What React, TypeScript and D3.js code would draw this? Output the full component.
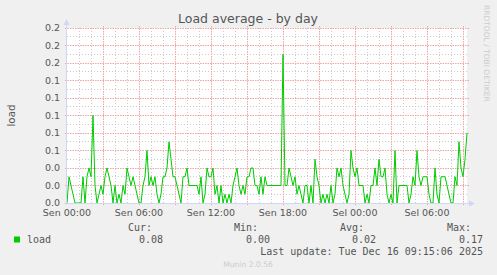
import React from "react";
import * as d3 from "d3";

// load average samples, one every 10 minutes starting Sen 00:00
const loadValues: number[] = [
  0.00, 0.03, 0.02, 0.01, 0.00, 0.00, 0.00, 0.00, 0.03, 0.00,
  0.03, 0.04, 0.03, 0.10, 0.02, 0.00, 0.01, 0.02, 0.01, 0.03,
  0.04, 0.03, 0.02, 0.00, 0.02, 0.00, 0.01, 0.00, 0.02, 0.01,
  0.04, 0.03, 0.02, 0.03, 0.02, 0.01, 0.00, 0.00, 0.02, 0.03,
  0.06, 0.02, 0.03, 0.02, 0.03, 0.01, 0.00, 0.01, 0.03, 0.03,
  0.04, 0.07, 0.05, 0.03, 0.03, 0.02, 0.01, 0.00, 0.03, 0.03,
  0.04, 0.02, 0.02, 0.02, 0.02, 0.02, 0.01, 0.03, 0.00, 0.01,
  0.04, 0.03, 0.03, 0.04, 0.01, 0.02, 0.00, 0.02, 0.00, 0.01,
  0.00, 0.01, 0.00, 0.02, 0.03, 0.04, 0.02, 0.01, 0.02, 0.01,
  0.03, 0.03, 0.04, 0.04, 0.02, 0.02, 0.01, 0.03, 0.01, 0.03,
  0.02, 0.02, 0.02, 0.02, 0.02, 0.02, 0.02, 0.02, 0.17, 0.02,
  0.02, 0.04, 0.03, 0.02, 0.03, 0.01, 0.02, 0.01, 0.00, 0.02,
  0.02, 0.00, 0.02, 0.00, 0.05, 0.03, 0.02, 0.00, 0.01, 0.00,
  0.01, 0.00, 0.02, 0.00, 0.01, 0.04, 0.03, 0.04, 0.02, 0.01,
  0.00, 0.01, 0.06, 0.04, 0.03, 0.04, 0.02, 0.02, 0.02, 0.00,
  0.01, 0.00, 0.02, 0.02, 0.04, 0.02, 0.05, 0.03, 0.03, 0.04,
  0.01, 0.00, 0.01, 0.00, 0.06, 0.00, 0.02, 0.02, 0.02, 0.02,
  0.02, 0.00, 0.01, 0.03, 0.02, 0.06, 0.03, 0.02, 0.03, 0.03,
  0.03, 0.01, 0.00, 0.00, 0.04, 0.01, 0.00, 0.03, 0.03, 0.03,
  0.02, 0.01, 0.00, 0.00, 0.03, 0.02, 0.07, 0.04, 0.03, 0.05,
  0.08,
];

const yTickValues: number[] = [0, 0.02, 0.04, 0.06, 0.08, 0.1, 0.12, 0.14, 0.16, 0.18, 0.2];
const yMinorValues: number[] = [0.01, 0.03, 0.05, 0.07, 0.09, 0.11, 0.13, 0.15, 0.17, 0.19];
const xTickHours: number[] = [0, 6, 12, 18, 24, 30];
const xTickLabels: string[] = ["Sen 00:00", "Sen 06:00", "Sen 12:00", "Sen 18:00", "Sel 00:00", "Sel 06:00"];

const legendHeaders: string[] = ["Cur:", "Min:", "Avg:", "Max:"];
const legendValues: string[] = ["0.08", "0.00", "0.02", "0.17"];
const seriesName = "load";
const title = "Load average - by day";
const lastUpdate = "Last update: Tue Dec 16 09:15:06 2025";

const W = 497;
const H = 275;
const L = 67;
const R = 467;
const T = 28;
const B = 203;
const spanHours = 400 / 12;

export default function App() {
  const x = d3.scaleLinear().domain([0, spanHours]).range([L, R]);
  const y = d3.scaleLinear().domain([0, 0.2]).range([B, T]);

  const hours = d3.range(1, Math.floor(spanHours) + 1);
  const line = d3
    .line<number>()
    .x((_, i) => x(i / 6))
    .y((d) => y(d));

  const sans = "'DejaVu Sans', sans-serif";
  const mono = "'DejaVu Sans Mono', monospace";
  const fontCol = "#555";
  const minorCol = "#CCCCCC";
  const majorCol = "#F0A4A4";
  const axisCol = "#CFD6F8";
  const gy = (v: number) => Math.floor(y(v)) + 0.5;

  const legendHeaderX = [128, 234, 340, 447];
  const legendValueRight = [163, 270, 376, 483];

  return (
    <svg
      width={W}
      height={H}
      style={{ position: "absolute", left: 0, top: 0, display: "block" }}
    >
      <rect x={0} y={0} width={W} height={H} fill="#F0F0F0" />
      <rect x={L} y={T} width={R - L} height={B - T} fill="#FFFFFF" />

      {/* minor vertical grid (hourly) */}
      {hours
        .filter((h) => h % 3 !== 0)
        .map((h) => (
          <line
            key={"vm" + h}
            x1={Math.round(x(h)) + 0.5}
            x2={Math.round(x(h)) + 0.5}
            y1={T}
            y2={B}
            stroke={minorCol}
            strokeDasharray="1,2"
          />
        ))}
      {/* minor horizontal grid */}
      {yMinorValues.map((v) => (
        <line
          key={"hm" + v}
          x1={L}
          x2={R}
          y1={gy(v)}
          y2={gy(v)}
          stroke={minorCol}
          strokeDasharray="1,2"
        />
      ))}
      {/* major vertical grid (3 hours) */}
      {hours
        .filter((h) => h % 3 === 0)
        .map((h) => (
          <line
            key={"vM" + h}
            x1={Math.round(x(h)) + 0.5}
            x2={Math.round(x(h)) + 0.5}
            y1={T - 2}
            y2={B + 2}
            stroke={majorCol}
            strokeDasharray="1.5,1"
          />
        ))}
      {/* major horizontal grid */}
      {yTickValues.slice(1).map((v) => (
        <line
          key={"hM" + v}
          x1={L - 2}
          x2={R + 2}
          y1={gy(v)}
          y2={gy(v)}
          stroke={majorCol}
          strokeDasharray="1.5,1"
        />
      ))}

      {/* data line */}
      <path d={line(loadValues) || ""} fill="none" stroke="#00CC00" strokeWidth={1} />

      {/* axes */}
      <line x1={L - 0.5} x2={L - 0.5} y1={B + 2} y2={T - 4} stroke={axisCol} />
      <line x1={L - 3} x2={R + 3} y1={B + 0.5} y2={B + 0.5} stroke={axisCol} />
      <path
        d={`M${L - 3.5},${T - 3} L${L - 0.5},${T - 9} L${L + 2.5},${T - 3} Z`}
        fill={axisCol}
      />
      <path
        d={`M${R + 2},${B - 2.5} L${R + 8},${B + 0.5} L${R + 2},${B + 3.5} Z`}
        fill={axisCol}
      />

      {/* y tick labels */}
      {yTickValues.map((v) => (
        <text
          key={"yl" + v}
          x={60}
          y={y(v) + 3}
          textAnchor="end"
          fontFamily={sans}
          fontSize={9.5}
          fill={fontCol}
        >
          {d3.format(".1f")(v)}
        </text>
      ))}

      {/* x tick labels */}
      {xTickHours.map((h, i) => (
        <text
          key={"xl" + h}
          x={x(h)}
          y={215.5}
          textAnchor="middle"
          fontFamily={sans}
          fontSize={9.5}
          fill={fontCol}
        >
          {xTickLabels[i]}
        </text>
      ))}

      {/* title */}
      <text x={248} y={23} textAnchor="middle" fontFamily={sans} fontSize={12.5} fill={fontCol}>
        {title}
      </text>

      {/* vertical axis label */}
      <text
        transform={`translate(15, ${(T + B) / 2}) rotate(-90)`}
        textAnchor="middle"
        fontFamily={sans}
        fontSize={10.3}
        fill={fontCol}
      >
        {seriesName}
      </text>

      {/* watermark */}
      <text
        transform="translate(484, 5) rotate(90)"
        textAnchor="start"
        fontFamily={sans}
        fontSize={7.5}
        fill="#CCCCCC"
      >
        RRDTOOL / TOBI OETIKER
      </text>

      {/* legend */}
      {legendHeaders.map((hdr, i) => (
        <text key={"lh" + i} x={legendHeaderX[i]} y={231} fontFamily={mono} fontSize={10} fill={fontCol}>
          {hdr}
        </text>
      ))}
      <rect x={14} y={236.5} width={6} height={6} fill="#00CC00" />
      <text x={27} y={243} fontFamily={mono} fontSize={10} fill={fontCol}>
        {seriesName}
      </text>
      {legendValues.map((v, i) => (
        <text
          key={"lv" + i}
          x={legendValueRight[i]}
          y={243}
          textAnchor="end"
          fontFamily={mono}
          fontSize={10}
          fill={fontCol}
        >
          {v}
        </text>
      ))}
      <text x={483} y={255} textAnchor="end" fontFamily={mono} fontSize={10} fill={fontCol}>
        {lastUpdate}
      </text>
      <text x={248} y={267} textAnchor="middle" fontFamily={sans} fontSize={7.6} fill="#CCCCCC">
        Munin 2.0.56
      </text>
    </svg>
  );
}
